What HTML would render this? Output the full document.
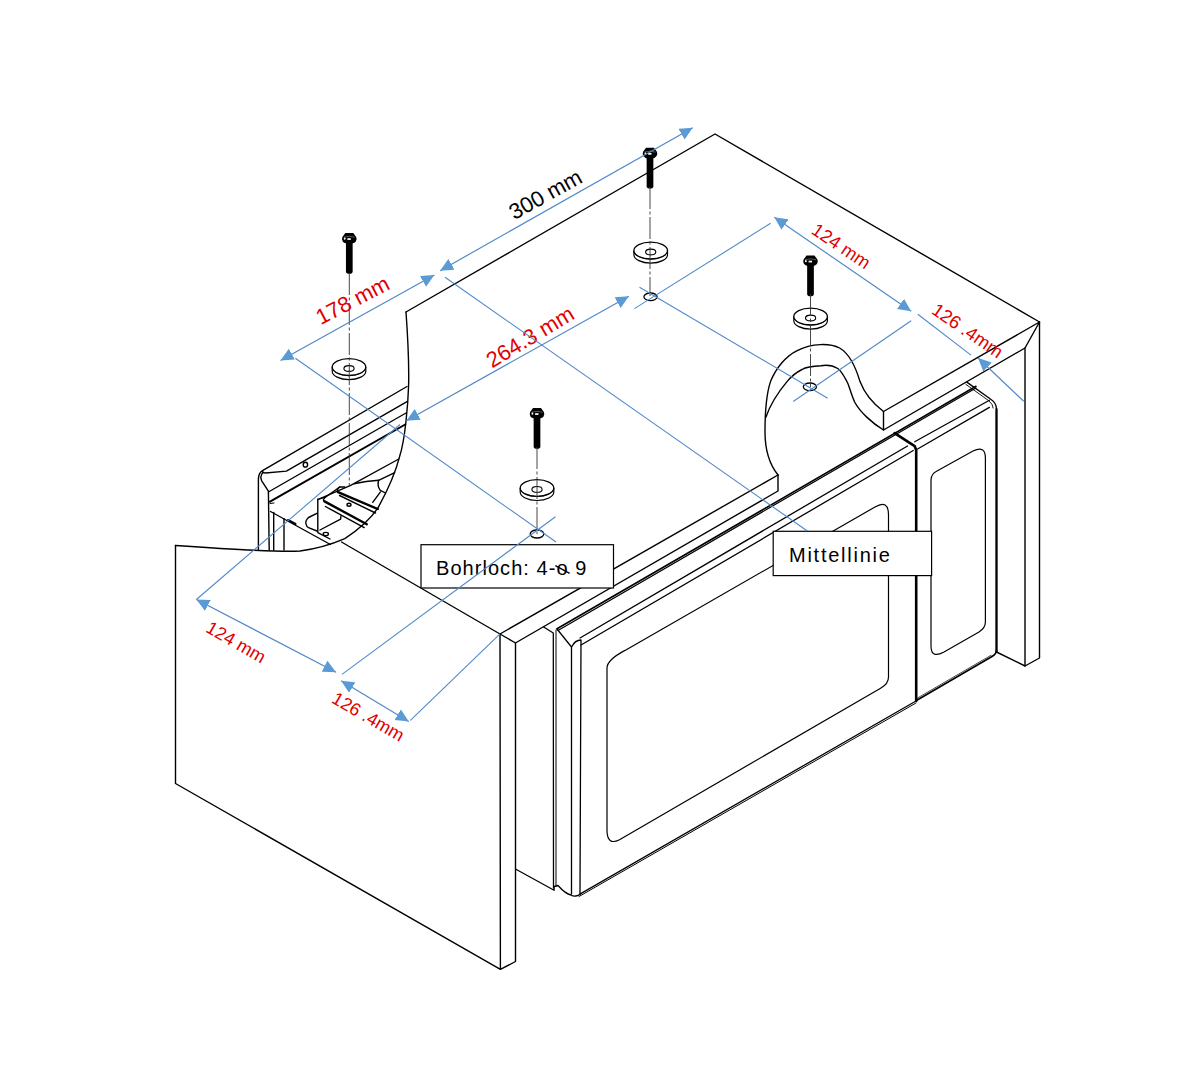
<!DOCTYPE html>
<html><head><meta charset="utf-8"><title>Montage</title>
<style>
html,body{margin:0;padding:0;background:#fff;}
body{width:1183px;height:1071px;overflow:hidden;}
svg{display:block;}
text{font-family:"Liberation Sans",sans-serif;}
</style></head>
<body>
<svg width="1183" height="1071" viewBox="0 0 1183 1071">
<defs>
<marker id="ah" viewBox="0 0 13 12.4" refX="13" refY="6.2" markerWidth="13" markerHeight="12.4" markerUnits="userSpaceOnUse" orient="auto-start-reverse">
<path d="M0,0 L13,6.2 L0,12.4 Z" fill="#5B9BD5"/>
</marker>
<g id="screw">
<path d="M-3.35,4 L3.35,4 L3.35,33 Q3.35,35.3 0,35.3 Q-3.35,35.3 -3.35,33 Z" fill="#000"/>
<path d="M-4,-5.6 L4,-5.6 L5.6,-3.2 Q7.4,-1.8 7.3,0.8 Q7,3.6 4.5,4.6 Q0,6 -4.5,4.6 Q-7,3.6 -7.3,0.8 Q-7.4,-1.8 -5.6,-3.2 Z" fill="#000"/>
<rect x="-1.9" y="-0.3" width="3.4" height="1.7" fill="#fff"/>
<ellipse cx="-4.6" cy="0.2" rx="0.9" ry="1.1" fill="#fff"/>
<path d="M-5.5,-1.2 Q0,-3.2 5.5,-1.2" stroke="#fff" stroke-width="0.5" fill="none" opacity="0.7"/>
</g>
<g id="washer">
<path d="M-16.8,0 L-16.8,4.1 A16.8,8.4 0 0 0 16.8,4.1 L16.8,0" fill="#fff" stroke="#000" stroke-width="1.2"/>
<ellipse cx="0" cy="0" rx="16.8" ry="8.4" fill="#fff" stroke="#000" stroke-width="1.3"/>
<path d="M-16.3,2.2 A16.8,8.4 0 0 0 16.3,2.2" fill="none" stroke="#000" stroke-width="0.8"/>
<ellipse cx="0" cy="1.4" rx="5.1" ry="2.9" fill="#fff" stroke="#000" stroke-width="1.1"/>
</g>
</defs>

<!-- ===== black structure ===== -->
<g fill="none" stroke="#000" stroke-width="1.4" stroke-linejoin="round" stroke-linecap="round">
<!-- top panel back edges -->
<path d="M406,312 L715,134 L1039.5,322"/>
<!-- right front top edge, thickness, bevel -->
<path d="M1039.5,322 L883.5,411.5 L883.5,430 L1025,348 L1039.5,322"/>
<!-- notch outer -->
<path d="M883.5,411.5 C872,403 864,392 860,381.6 C856,368 850,354 839.6,348 C830,343 812,343 796.7,350.8 C786,356 776,368 770.5,381.6 C766,395 765,415 765,432 C765,450 770,465 778,475"/>
<!-- notch inner -->
<path d="M883.5,430 C872,423 860,412 854.6,402 C851,394 849,385 847,381.6 C843,374 840,370 837.8,368.5 C832,365 825,365 821,365.7 C812,366 806,367 802,369.5 C795,373 790,378 787,381.6 C780,390 770,405 766,417"/>
<!-- front-left top edge of top panel -->
<path d="M778,475 L778,491 L515.4,643"/>
<path d="M778,475 L500,634"/>
<!-- cut curve -->
<path d="M406,312 C408,340 409,370 408.6,385.5 C408,405 405,440 399.8,455.8 C395,475 385,495 378.4,507.2 C370,520 358,530 344.8,538.6 C330,545 315,549 300,551 C280,552 240,550 175.5,545.5"/>
<!-- left panel -->
<path d="M175.5,545.5 L175.5,783.5 L500.4,969.4 L515.5,961.5 L515.5,643 L500,634 L500.4,969.4"/>
<path d="M341.5,542 L500,634"/>
<!-- right side panel -->
<path d="M1039.5,322 L1039.5,658 L1025,666 L1025,348"/>
<path d="M996.5,652 L1025,666"/>
</g>

<!-- ===== microwave ===== -->
<g fill="none" stroke="#000" stroke-width="1.3" stroke-linejoin="round" stroke-linecap="round">
<path d="M543.6,627 L553.3,633 L553.5,888"/>
<path d="M556,630 L556,886" stroke-width="1"/>
<path d="M515.9,869.2 L554.1,890.2 L554.1,886.5 L558,885.5 C562,890 566,894 571,895 C574,897 578,896 580.3,893.9"/>
<!-- top front edge (double) -->
<path d="M557,628.8 L976,386.3" stroke-width="1.6"/>
<path d="M558,630.4 L976,388" stroke-width="1.2"/>
<path d="M966.8,382.1 L990.4,399 Q996.5,403 996.5,409 L996.5,652" stroke-width="1.3"/>
<path d="M996.5,409 L996.5,652" stroke-width="2.2"/>
<path d="M965.8,384.3 L988.6,400.6 Q993,404 993.2,408" stroke-width="0.9"/>
<!-- door -->
<path d="M557,629 L571.5,647 L571.5,894"/>
<path d="M571.5,647 C574,642 578,640 581,640 L580,894"/>
<path d="M580,638 L907.5,446"/>
<path d="M581,645 L913.3,450.5"/>
<path d="M580.3,893.9 L916,701" stroke-width="1.3"/>
<path d="M579,896.5 L916,703" stroke-width="1"/>
<path d="M894.6,433.2 L914.7,446.2 L916.2,450 L916.2,701" stroke-width="2.6"/>
<!-- window -->
<path d="M625,650.4 L875,507 Q888.5,499 888.5,515 L888.5,677 Q888.5,684 880.6,688.2 L619.5,839.7 Q607,846 607,830 L607,668 Q607,660 625,650.4 Z" stroke-width="1.2"/>
<!-- control panel -->
<path d="M914.7,441.8 L989.4,400.2"/>
<path d="M917.6,449 L989.4,407.4"/>
<path d="M916.4,700.4 L992,656.5 Q996.5,654 996.5,650" stroke-width="1.7"/>
<path d="M917,698.3 L991,655.3" stroke-width="0.7"/>
<path d="M931,480 Q931,474 937,471 L973,451 Q985.4,445 985.4,458 L985.4,622 Q985.4,628 979,632 L944,652 Q931,659 931,646 Z" stroke-width="1.2"/>
</g>

<!-- ===== cut-away interior ===== -->
<g fill="none" stroke="#000" stroke-width="1.4" stroke-linejoin="round" stroke-linecap="round">
<path d="M258.4,550 L258.4,479 Q258.6,473 262.5,470.7 L407,386.5"/>
<path d="M262.5,471.5 Q263,473 265.5,473 L286.4,471.1 L407,401.6"/>
<path d="M263,472.5 Q259.5,476 261.7,480.8 L268.4,491.2 L269.2,550"/>
<path d="M268.4,492 L406,413"/>
<path d="M270,501.7 L405.2,424.5" stroke-width="2"/>
<path d="M270,503.5 L274,503" stroke-width="1"/>
<path d="M273.7,512.5 L273.7,550"/>
<path d="M284,518.6 L284,550"/>
<path d="M270.5,511.5 L330.4,544.5"/>
<ellipse cx="305.4" cy="464.7" rx="2.2" ry="2.4"/>
<!-- upper lines to the right of the bracket -->
<path d="M319.4,498.9 L350.7,485.4 L398.8,459"/>
<path d="M354,483.7 Q366,481 378.6,480.3 L394.7,472.7"/>
<path d="M378.6,480.3 Q377,486 380.3,490.4 L385.4,493"/>
<path d="M380.3,492.1 L372.7,502.3"/>
<!-- bracket -->
<path d="M317.8,499.3 L317.8,532.7 L330,539"/>
<path d="M317.8,499.3 L325.4,497.2 L339.7,487 L344.8,487"/>
<path d="M324.5,501.4 L366.8,524.2" stroke-width="2.4"/>
<path d="M325.4,506.5 L364.2,527.6"/>
<path d="M338,492.1 L377.8,509" stroke-width="2.4"/>
<path d="M339.5,495.5 L375.5,513"/>
<path d="M325.4,497.2 Q322,500 324.5,501.4"/>
<path d="M339.7,487 Q336,490 338,492.1"/>
<path d="M316.9,513.3 L308.5,517.5 Q305,521 306,524 Q306.5,527 308.5,527.6 L316.9,531"/>
<path d="M320,530 L340.6,519.2 L341,516"/>
<ellipse cx="349" cy="504.8" rx="2" ry="1.5"/>
<ellipse cx="325.8" cy="534" rx="2.6" ry="1.6"/>
<path d="M288,520 L295.5,524" stroke-width="2"/>
</g>

<!-- ===== screws, washers, holes ===== -->
<use href="#screw" x="349.3" y="238.5"/>
<use href="#screw" x="650" y="153.3"/>
<use href="#screw" x="810.5" y="261"/>
<use href="#screw" x="537" y="413.5"/>
<use href="#washer" x="349" y="367.1"/>
<use href="#washer" x="650.7" y="250.6"/>
<use href="#washer" x="810.6" y="316.6"/>
<use href="#washer" x="537" y="488"/>
<g fill="none" stroke="#000" stroke-width="1.3">
<ellipse cx="650.5" cy="296.8" rx="6.6" ry="3.8"/>
<ellipse cx="809.9" cy="386.8" rx="6.6" ry="3.8"/>
<ellipse cx="537" cy="534" rx="6.8" ry="4"/>
</g>

<!-- ===== center lines (dash-dot) ===== -->
<g stroke="#333" stroke-width="0.9" fill="none" stroke-dasharray="22 2.5 3 2.5">
<path d="M349.3,273 L349.3,485"/>
<path d="M650,187 L650,296"/>
<path d="M810.5,294 L810.5,387"/>
<path d="M537,447 L537,534"/>
</g>

<!-- ===== dimension texts ===== -->
<g text-anchor="middle">
<text x="549" y="201" font-size="22" fill="#000" transform="rotate(-29 549 201)">300 mm</text>
<text x="356" y="307" font-size="22" fill="#E00000" transform="rotate(-27.5 356 307)">178 mm</text>
<text x="534" y="343.3" font-size="22" fill="#E00000" transform="rotate(-31 534 343.3)">264.3 mm</text>
<text x="837.7" y="251.3" font-size="18.3" fill="#E00000" transform="rotate(34 837.7 251.3)">124 mm</text>
<text x="964" y="335.8" font-size="18.3" fill="#E00000" transform="rotate(34.5 964 335.8)">126 .4mm</text>
<text x="233" y="647.6" font-size="18" fill="#E00000" transform="rotate(30 233 647.6)">124 mm</text>
<text x="365.2" y="722" font-size="18" fill="#E00000" transform="rotate(30 365.2 722)">126 .4mm</text>
</g>

<!-- ===== label boxes ===== -->
<rect x="421" y="544.7" width="192.5" height="43.3" fill="#fff" stroke="#000" stroke-width="1.2"/>
<text x="436" y="575.2" font-size="20" letter-spacing="1.05" fill="#000">Bohrloch: 4-o 9</text>
<path d="M555.4,565.7 L569.6,573.4" stroke="#000" stroke-width="1.5"/>
<rect x="773.2" y="531.3" width="158.4" height="44.3" fill="#fff" stroke="#000" stroke-width="1.2"/>
<text x="789" y="561.7" font-size="20" letter-spacing="1.75" fill="#000">Mittellinie</text>
<!-- ===== blue dimension lines ===== -->
<g stroke="#5289c8" stroke-width="1.1" fill="none">
<!-- extension lines -->
<path d="M295.4,358.3 L556,542"/>
<path d="M445,277.3 L807.3,531"/>
<path d="M639.5,287.3 L827.7,398.2"/>
<path d="M634.4,308.6 L770.6,223.3"/>
<path d="M793.2,401.5 L911.2,320.8"/>
<path d="M342,674.4 L555.5,516.7"/>
<path d="M196.4,599.5 L400,424.5"/>
<path d="M410.4,720.4 L500,633.8"/>
<path d="M917.8,314.3 L971,355.1"/>
</g>
<g stroke="#5289c8" stroke-width="1.2" fill="none">
<!-- arrows -->
<path d="M440.1,270.7 L692.8,127.8" marker-start="url(#ah)" marker-end="url(#ah)"/>
<path d="M280.5,360.4 L434.4,275.1" marker-start="url(#ah)" marker-end="url(#ah)"/>
<path d="M406.4,420.7 L628.9,296.3" marker-start="url(#ah)" marker-end="url(#ah)"/>
<path d="M774.3,217.2 L911.2,311.3" marker-start="url(#ah)" marker-end="url(#ah)"/>
<path d="M1023.7,401.2 L978.1,358" marker-end="url(#ah)"/>
<path d="M196.4,599.5 L336.1,672.2" marker-start="url(#ah)" marker-end="url(#ah)"/>
<path d="M341.1,680.8 L408.8,721.4" marker-start="url(#ah)" marker-end="url(#ah)"/>
</g>

</svg>
</body></html>
